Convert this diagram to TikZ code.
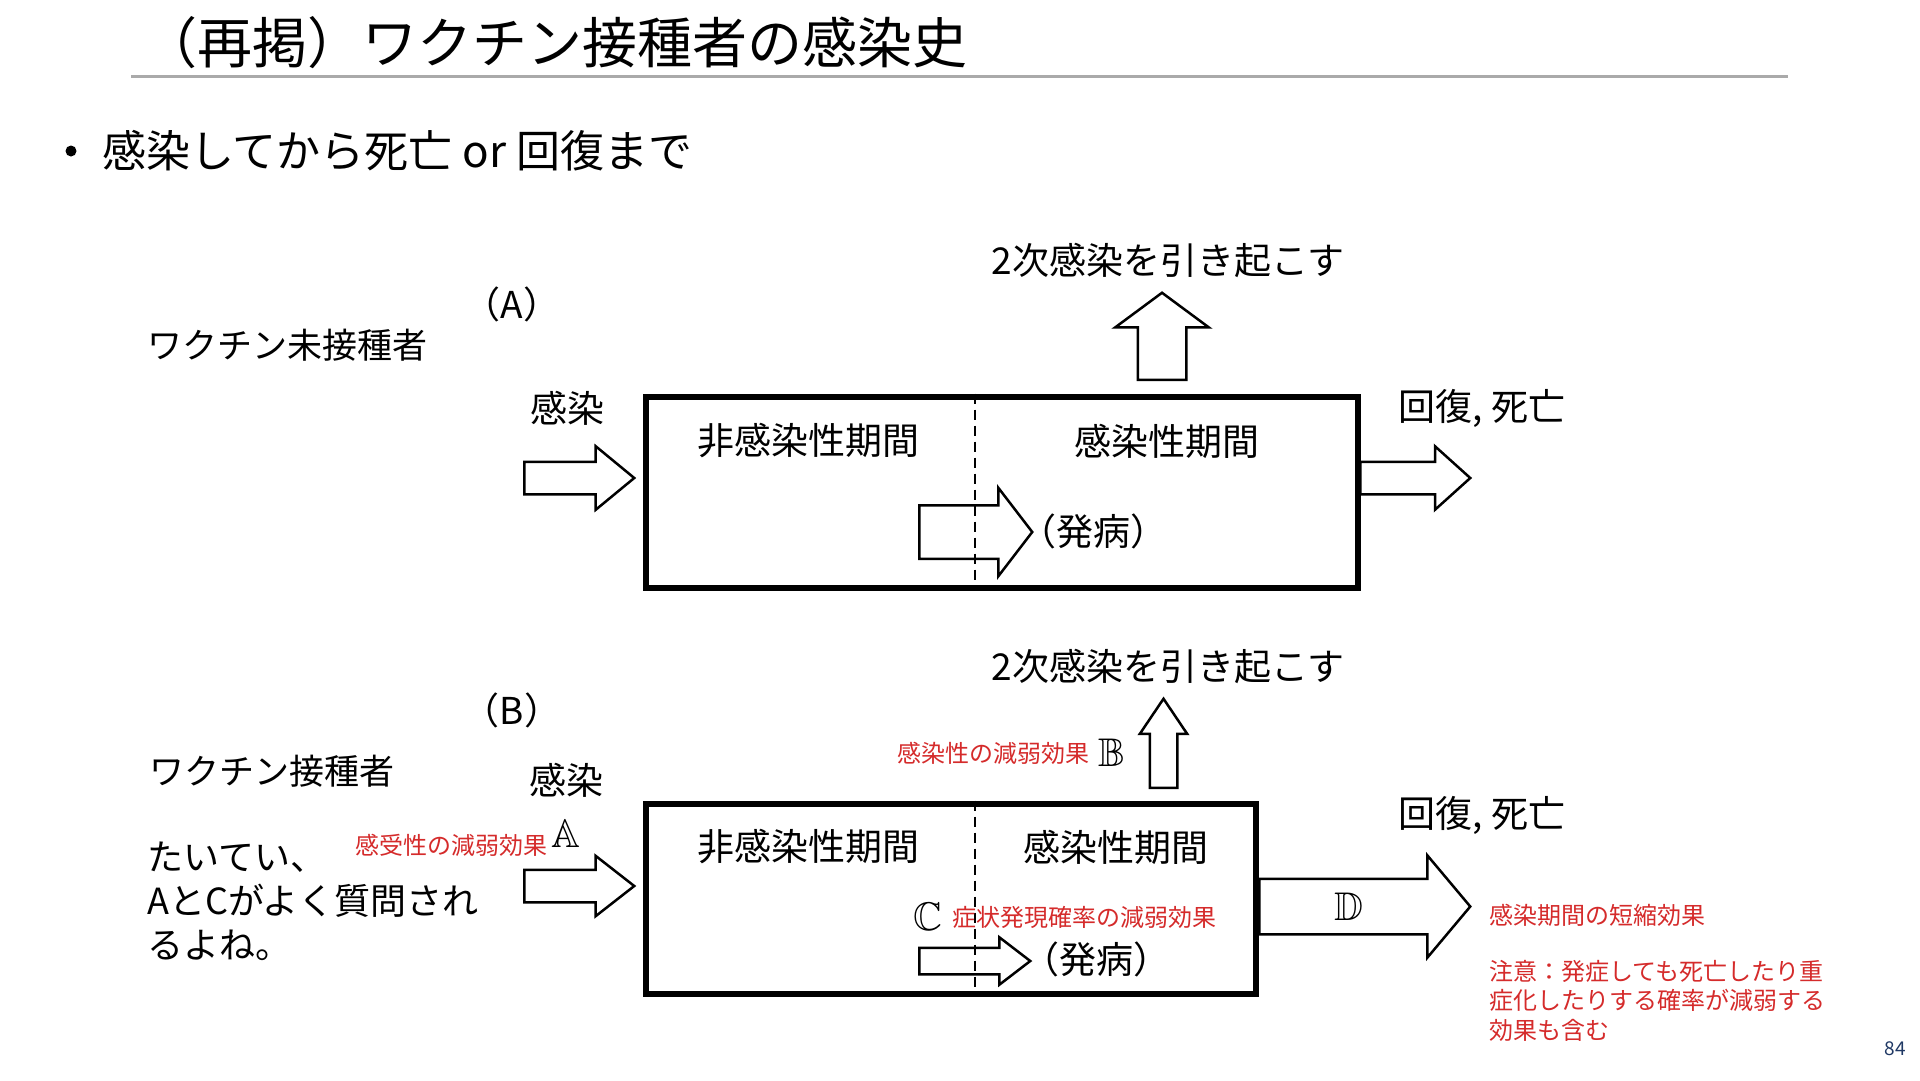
\documentclass[tikz,border=0pt]{standalone}
\usepackage{amssymb}
\usepackage{fontspec}
\setmainfont{Noto Sans CJK JP}
\definecolor{kouka}{RGB}{213,43,43}
\definecolor{sengray}{RGB}{170,170,170}
\definecolor{pagenavy}{RGB}{31,56,100}
\usetikzlibrary{shapes.arrows}

\begin{document}
\begin{tikzpicture}[x=1pt, y=-1pt,
            titletext/.style={font=\fontsize{55}{60}\selectfont, inner sep=0},
            bullettext/.style={font=\fontsize{44}{50}\selectfont, inner sep=0},
            bodytext/.style={font=\fontsize{37}{44}\selectfont, inner sep=0},
            grouptext/.style={font=\fontsize{35}{44}\selectfont, inner sep=0, align=left},
            effecttext/.style={text=kouka, font=\fontsize{24}{29.5}\selectfont, inner sep=0, align=left},
            bbletter/.style={font=\fontsize{40}{44}\selectfont, inner sep=0},
            periodbox/.style={rectangle, draw, line width=6pt, inner sep=0},
            bigarrow/.style={single arrow, draw, line width=2.5pt, inner xsep=0, anchor=tail},
            divider/.style={dash pattern=on 10pt off 6pt, line width=2pt}
        ]
            \path[use as bounding box, fill=white] (0,0) rectangle (1920,1080);

            % Titulo
            \node (title) [titletext] at (555,43) {（再掲）ワクチン接種者の感染史};
            \draw [sengray, line width=3pt] (131,76) -- (1788,76);
            \node (dot) [circle, fill, inner sep=0, minimum size=11] at (71,151) {};
            \node (intro) [bullettext, anchor=west] at (102,151) {感染してから死亡 or 回復まで};

            % (A) ワクチン未接種者
            \node (capA) [bodytext] at (512,304) {（A）};
            \node (unvac) [grouptext, anchor=west] at (147,345) {ワクチン未接種者};
            \node (boxA) [periodbox, minimum width=712, minimum height=191] at (1002,492) {};
            \coordinate (divA) at (975,0);
            \node (nonA) [bodytext] at (808,441) {非感染性期間};
            \node (infpA) [bodytext] at (1167,441) {感染性期間};
            \node (infA) [bodytext] at (567,408) {感染};
            \node (inA) [bigarrow, inner ysep=15, minimum height=110, minimum width=61, single arrow head extend=15.5, single arrow tip angle=79] at (523,478) {};
            \node (onsetA) [bigarrow, inner ysep=25.5, minimum height=113, minimum width=86, single arrow head extend=17.5, single arrow tip angle=105] at (918,532) {};
            \node (sickA) [bodytext] at (1093,531) {（発病）};
            \node (upA) [bigarrow, rotate=90, inner ysep=23, minimum height=87, minimum width=91, single arrow head extend=22.5, single arrow tip angle=107] at (1162,381) {};
            \node (secA) [bodytext] at (1168,260) {2次感染を引き起こす};
            \node (outA) [bigarrow, inner ysep=15, minimum height=110, minimum width=61, single arrow head extend=15.5, single arrow tip angle=84] at (1359,478) {};
            \node (endA) [bodytext] at (1482,408) {回復, 死亡};
            \draw [divider] (boxA.north -| divA) -- (boxA.south -| divA);

            % (B) ワクチン接種者
            \node (capB) [bodytext] at (512,710) {（B）};
            \node (vac) [grouptext, anchor=west] at (149,771) {ワクチン接種者};
            \node (memo) [grouptext, font=\fontsize{36}{44}\selectfont, anchor=north west] at (147,842) {たいてい、\\AとCがよく質問され\\るよね。};
            \node (boxB) [periodbox, minimum width=610, minimum height=190] at (950.5,898.5) {};
            \coordinate (divB) at (975,0);
            \node (nonB) [bodytext] at (808,847) {非感染性期間};
            \node (infpB) [bodytext] at (1116,847) {感染性期間};
            \node (infB) [bodytext] at (566,780) {感染};
            \node (bbA) [bbletter] at (566,834) {$\mathbb{A}$};
            \node (suscA) [effecttext] at (451,845) {感受性の減弱効果};
            \node (inB) [bigarrow, inner ysep=15, minimum height=110, minimum width=58, single arrow head extend=14, single arrow tip angle=76] at (523,886) {};
            \node (upB) [bigarrow, rotate=90, inner ysep=12.5, minimum height=89, minimum width=45, single arrow head extend=10, single arrow tip angle=68] at (1163.5,789) {};
            \node (bbB) [bbletter] at (1112,753) {$\mathbb{B}$};
            \node (weakB) [effecttext] at (993,753) {感染性の減弱効果};
            \node (secB) [bodytext] at (1168,666) {2次感染を引き起こす};
            \node (onsetB) [bigarrow, inner ysep=12, minimum height=111, minimum width=45, single arrow head extend=10.5, single arrow tip angle=75] at (918,961) {};
            \node (sickB) [bodytext] at (1096,959) {（発病）};
            \draw [divider] (boxB.north -| divB) -- (boxB.south -| divB);
            \node (bbC) [bbletter] at (928,917) {$\mathbb{C}$};
            \node (weakC) [effecttext] at (1084,917) {症状発現確率の減弱効果};
            \node (outD) [bigarrow, inner ysep=26.5, minimum height=211, minimum width=100, single arrow head extend=23.5, single arrow tip angle=100] at (1258,906.5) {};
            \node (bbD) [bbletter] at (1349,907) {$\mathbb{D}$};
            \node (endB) [bodytext] at (1482,815) {回復, 死亡};
            \node (shortD) [effecttext, anchor=west] at (1489,915) {感染期間の短縮効果};
            \node (caution) [effecttext, anchor=north west] at (1489,960) {注意：発症しても死亡したり重\\症化したりする確率が減弱する\\効果も含む};

            % ページ番号
            \node (pagenum) [text=pagenavy, font=\fontsize{19}{22}\selectfont, inner sep=0] at (1895,1049) {84};
        \end{tikzpicture}
\end{document}
